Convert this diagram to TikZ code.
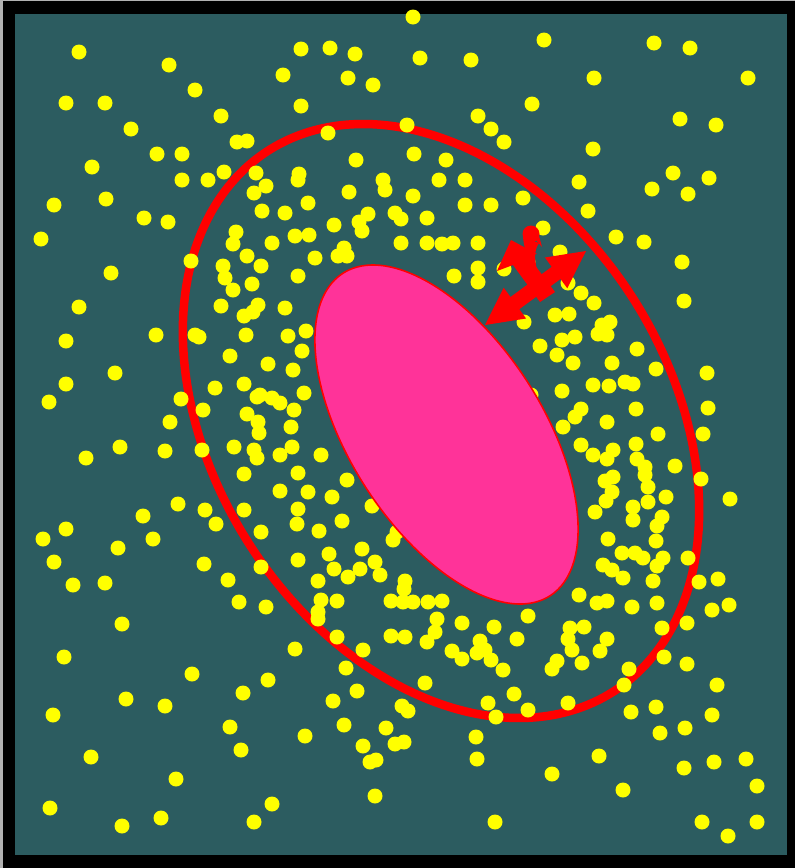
\documentclass[tikz,border=0pt]{standalone}
\definecolor{teal0}{RGB}{44,92,96}
\definecolor{pink0}{RGB}{255,51,153}
\definecolor{red0}{RGB}{255,0,0}
\definecolor{yel0}{RGB}{255,255,0}
\begin{document}
\begin{tikzpicture}[x=1pt,y=-1pt,
  dotc/.style={fill=yel0},
  ringc/.style={draw=red0,line width=8.5pt},
  innerc/.style={fill=pink0,draw=red0,line width=1.6pt},
  arrowc/.style={fill=red0}]
\useasboundingbox (0,0) rectangle (795,868);
\fill[gray!60] (0,0) rectangle (795,868);
\fill[black] (2.5,1) rectangle (795,868);
\fill[teal0] (15,14) rectangle (787,855);
% outer ring
\draw[ringc] plot[domain=0:357,samples=120,smooth cycle,variable=\t]
  ({441+172.4*cos(\t)-192.2*sin(\t)},{421+270.6*cos(\t)+122.4*sin(\t)});
% dots
\foreach \px/\py in {
79/52,169/65,66/103,105/103,195/90,131/129,221/116,157/154,182/154,237/142,247/141,92/167,182/180,208/180,224/172,256/173,266/186,254/193,54/205,106/199,262/211,144/218,168/222,236/232,233/244,41/239,247/256,191/261,261/266,223/266,225/278,111/273,252/284,233/290,
413/17,301/49,330/48,355/54,420/58,471/60,283/75,348/78,373/85,301/106,532/104,478/116,491/129,504/142,328/133,407/125,356/160,414/154,446/160,299/174,298/180,383/180,385/190,349/192,413/196,439/180,465/180,523/198,285/213,308/203,465/205,491/205,368/214,359/222,362/231,334/225,395/213,401/219,427/218,272/243,295/236,309/235,344/248,338/256,347/256,315/258,401/243,427/243,442/244,453/243,478/243,298/276,454/276,478/268,478/282,504/269,
544/40,654/43,690/48,594/78,748/78,680/119,716/125,593/149,579/182,673/173,709/178,652/189,688/194,588/211,543/228,616/237,644/242,682/262,560/252,568/283,581/293,528/262,
79/307,66/341,156/335,195/335,199/337,221/306,244/316,253/312,258/305,246/335,230/356,115/373,66/384,49/402,181/399,203/410,215/388,244/384,257/397,260/395,247/414,258/422,259/433,268/364,170/422,120/447,86/458,165/451,202/450,234/447,254/450,257/458,244/474,178/504,205/510,216/524,244/510,143/516,66/529,43/539,153/539,118/548,54/562,204/564,261/567,228/580,73/585,105/583,261/532,
285/308,306/331,288/336,302/351,293/370,304/393,272/398,280/403,294/410,291/427,292/447,280/455,321/455,298/473,347/480,280/491,308/492,332/497,372/506,298/509,297/524,342/521,319/531,393/540,397/532,362/549,329/554,298/560,375/562,334/569,360/569,348/577,380/575,318/581,405/581,404/589,524/322,531/395,
594/303,684/301,555/315,569/314,602/325,610/322,598/334,607/335,540/346,562/340,575/337,557/355,573/363,637/349,612/363,656/369,707/373,593/385,609/386,625/382,633/384,562/391,636/409,581/409,575/417,607/422,708/408,563/427,658/434,703/434,581/445,636/444,593/455,607/459,613/450,637/459,645/467,645/475,675/466,701/479,605/481,613/477,648/487,612/492,606/501,666/497,648/502,730/499,595/512,633/507,633/520,662/517,657/526,608/539,656/541,622/553,635/553,643/558,663/558,657/566,688/558,603/565,612/570,623/578,653/581,699/582,718/579,
239/602,266/607,122/624,64/657,192/674,268/680,243/693,126/699,165/706,53/715,230/727,241/750,91/757,176/779,50/808,122/826,161/818,254/822,
321/600,318/612,318/619,337/601,391/601,403/602,413/602,428/602,442/601,437/619,462/623,494/627,528/616,391/636,405/637,435/632,427/642,337/637,295/649,363/650,480/641,477/653,485/650,452/651,462/659,491/660,517/639,503/670,346/668,425/683,357/691,333/701,514/694,488/703,402/706,408/711,496/717,528/710,344/725,386/728,305/736,476/737,363/746,395/744,404/742,370/762,376/760,477/759,375/796,272/804,495/822,
579/595,597/603,607/601,632/607,657/603,712/610,729/605,570/628,584/627,568/639,607/639,662/628,687/623,572/650,600/651,557/661,552/669,582/663,629/669,624/685,664/657,687/664,717/685,568/703,631/712,656/707,712/715,660/733,685/728,599/756,552/774,623/790,684/768,714/762,746/759,757/786,702/822,728/836,757/822}
  \fill[dotc] (\px,\py) circle (7.5pt);
% inner ellipse
\draw[innerc] plot[domain=0:357,samples=120,smooth cycle,variable=\t]
  ({446.5+103.5*cos(\t)-81.3*sin(\t)},{434.5+161.3*cos(\t)+52.1*sin(\t)});
% double arrow
\fill[arrowc] (485,325) -- (526.1,318.5) -- (519.3,309.2) -- (560.5,279.0) -- (567.3,288.3) -- (586,251)
  -- (544.9,257.5) -- (551.7,266.8) -- (510.5,297.0) -- (503.7,287.7) -- cycle;
% second arrow
\fill[arrowc] (511,240) -- (497,271) -- (513,265) -- (540,302) -- (555,292) -- (528,256) -- (537,254) -- cycle;
% teardrop
\fill[arrowc] (531,234) circle (8.5pt);
\fill[arrowc] (523,237) .. controls (525,256) and (531,266) .. (538,274) .. controls (535,262) and (533,252) .. (539,243) -- cycle;
\fill[arrowc] (535,239) -- (542,247) -- (539,236) -- cycle;
\end{tikzpicture}
\end{document}
